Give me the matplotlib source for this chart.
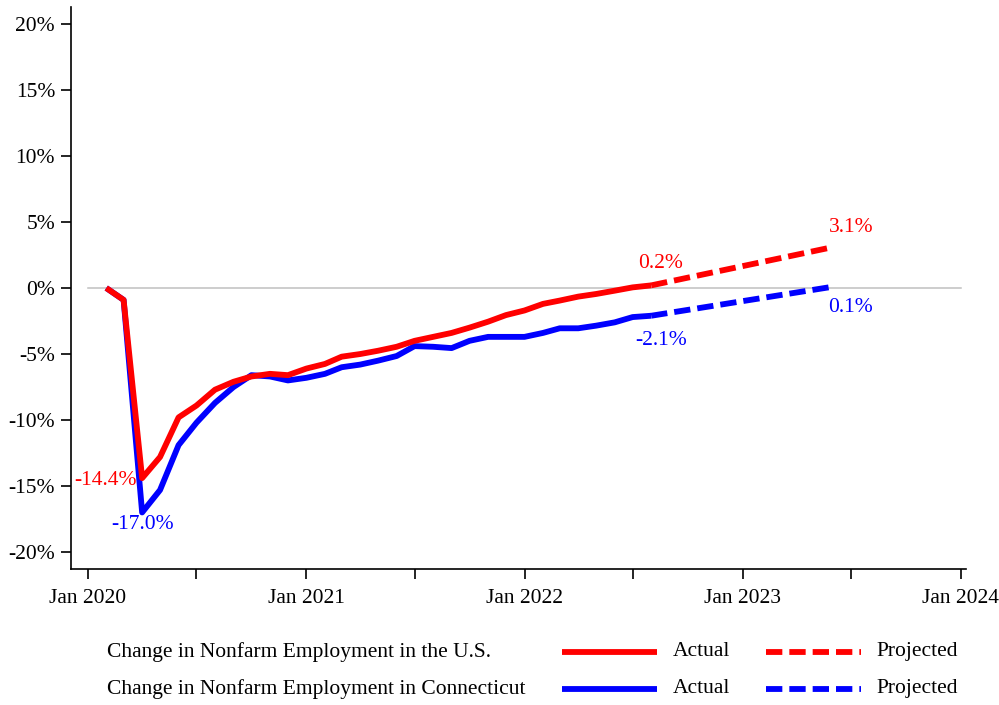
import numpy as np
import pandas as pd
import matplotlib
matplotlib.use("Agg")
import matplotlib.pyplot as plt
import matplotlib.dates as mdates
from matplotlib.lines import Line2D

plt.rcParams['font.family'] = ['Liberation Serif', 'DejaVu Serif']
plt.rcParams['font.size'] = 15.5

# DATA (percent change since Feb 2020)
months = pd.date_range("2020-02-01", "2022-08-01", freq="MS")
us_actual = [0.0, -0.9, -14.4, -12.8, -9.8, -8.9, -7.7, -7.1, -6.7, -6.5, -6.6,
             -6.1, -5.75, -5.2, -5.0, -4.75, -4.45, -4.0, -3.7, -3.4, -3.0, -2.55, -2.05,
             -1.7, -1.2, -0.95, -0.65, -0.45, -0.2, 0.05, 0.2]
ct_actual = [0.0, -0.9, -17.0, -15.3, -11.9, -10.2, -8.7, -7.5, -6.6, -6.7, -7.0,
             -6.8, -6.5, -6.0, -5.8, -5.5, -5.15, -4.4, -4.45, -4.55, -4.0, -3.7, -3.7,
             -3.7, -3.4, -3.05, -3.05, -2.85, -2.6, -2.2, -2.1]
proj_months = pd.to_datetime(["2022-08-01", "2023-06-01"])
us_proj = [0.2, 3.1]
ct_proj = [-2.1, 0.1]

ytick_vals = [-20, -15, -10, -5, 0, 5, 10, 15, 20]
ytick_labels = ["-20%", "-15%", "-10%", "-5%", "0%", "5%", "10%", "15%", "20%"]
xtick_major = pd.to_datetime(["2020-01-01", "2021-01-01", "2022-01-01", "2023-01-01", "2024-01-01"])
xtick_labels = ["Jan 2020", "Jan 2021", "Jan 2022", "Jan 2023", "Jan 2024"]
xtick_minor = pd.to_datetime(["2020-07-01", "2021-07-01", "2022-07-01", "2023-07-01"])

RED = "#ff0000"
BLUE = "#0000ff"
LW = 4.2
DASH = (0, (2.8, 1.2))

fig = plt.figure(figsize=(9.99, 7.05), dpi=100)
ax = fig.add_axes([0.0711, 0.1926, 0.8959, 0.7977])

# zero reference line
ax.plot(pd.to_datetime(["2020-01-01", "2024-01-01"]), [0, 0], color="#c0c0c0", lw=1.1, zorder=1)

ax.plot(months, ct_actual, color=BLUE, lw=LW, solid_capstyle="butt", solid_joinstyle="round", zorder=2)
ax.plot(proj_months, ct_proj, color=BLUE, lw=LW, linestyle=DASH, zorder=2)
ax.plot(months, us_actual, color=RED, lw=LW, solid_capstyle="butt", solid_joinstyle="round", zorder=3)
ax.plot(proj_months, us_proj, color=RED, lw=LW, linestyle=DASH, zorder=3)

# value labels
apr = months[2]
aug = months[-1]
ax.annotate("-14.4%", (apr, us_actual[2]), xytext=(-3.6, -2), textcoords="offset points",
            ha="right", va="center", color=RED)
ax.annotate("-17.0%", (apr, ct_actual[2]), xytext=(0, -9), textcoords="offset points",
            ha="center", va="center", color=BLUE)
ax.annotate("0.2%", (aug, us_actual[-1]), xytext=(7, 16), textcoords="offset points",
            ha="center", va="center", color=RED)
ax.annotate("-2.1%", (aug, ct_actual[-1]), xytext=(7, -18), textcoords="offset points",
            ha="center", va="center", color=BLUE)
ax.annotate("3.1%", (proj_months[-1], us_proj[-1]), xytext=(13, 14), textcoords="offset points",
            ha="center", va="center", color=RED)
ax.annotate("0.1%", (proj_months[-1], ct_proj[-1]), xytext=(13, -15), textcoords="offset points",
            ha="center", va="center", color=BLUE)

ax.set_xlim(pd.Timestamp("2019-12-04"), pd.Timestamp("2024-01-10"))
ax.set_ylim(-21.3, 21.3)

ax.set_yticks(ytick_vals)
ax.set_yticklabels(ytick_labels)
ax.set_xticks(xtick_major)
ax.set_xticklabels(xtick_labels)
ax.set_xticks(xtick_minor, minor=True)

for s in ["top", "right"]:
    ax.spines[s].set_visible(False)
for s in ["left", "bottom"]:
    ax.spines[s].set_linewidth(1.2)
ax.tick_params(axis="x", which="both", direction="out", length=7.5, width=1.2, pad=7)
ax.tick_params(axis="y", direction="out", length=7.5, width=1.2, pad=4)

# legend built by hand
rows = [("Change in Nonfarm Employment in the U.S.", RED, 0.0752),
        ("Change in Nonfarm Employment in Connecticut", BLUE, 0.0227)]
for label, col, yy in rows:
    fig.text(0.1071, yy, label, ha="left", va="center")
    fig.add_artist(Line2D([0.5626, 0.6577], [yy, yy], transform=fig.transFigure,
                          color=col, lw=LW, solid_capstyle="butt"))
    fig.text(0.6737, yy, "Actual", ha="left", va="center")
    fig.add_artist(Line2D([0.7668, 0.8619], [yy, yy], transform=fig.transFigure,
                          color=col, lw=LW, linestyle=DASH))
    fig.text(0.8769, yy, "Projected", ha="left", va="center")

fig.savefig("out.png", dpi=100)
